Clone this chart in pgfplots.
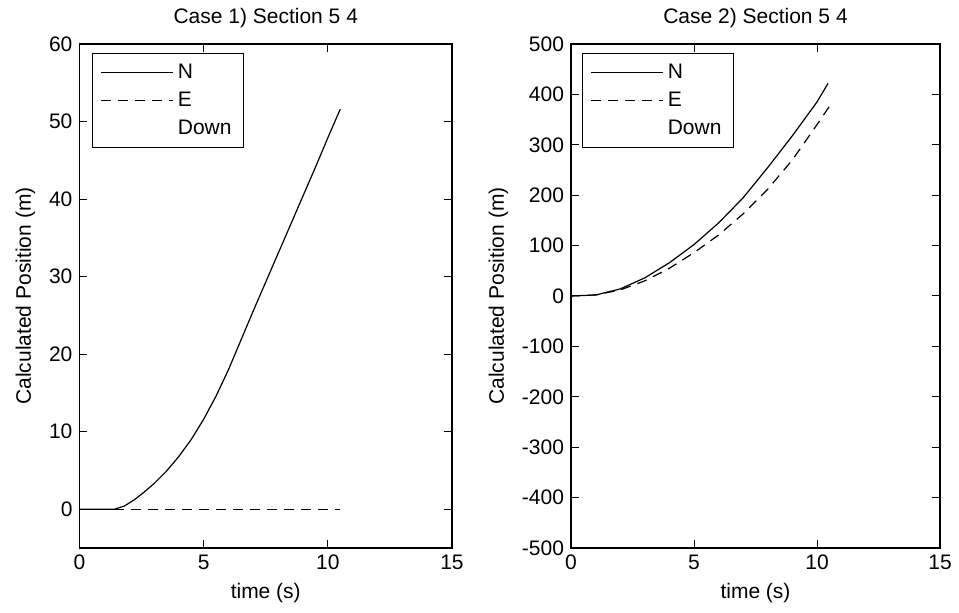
\documentclass[border=0pt]{standalone}
\usepackage{pgfplots}
\pgfplotsset{compat=1.18}
\usepackage{fontspec}
\setmainfont{Liberation Sans}
\begin{document}
\begin{tikzpicture}
\pgfplotsset{
  myaxis/.style={
    scale only axis,
    height=252pt,
    xmin=0, xmax=15,
    xtick={0,5,10,15},
    tick align=inside,
    major tick length=4pt,
    axis line style={line width=0.6pt},
    every tick/.style={black, line width=0.5pt},
    font=\fontsize{10.5}{12.6}\selectfont,
    /pgf/number format/assume math mode=true,
    xlabel={time (s)},
    ylabel={Calculated Position (m)},
    legend cell align=left,
    legend style={draw=black, line width=0.5pt, fill=white, row sep=1.5pt,
      inner xsep=4pt, inner ysep=3pt, font=\fontsize{10.5}{12.6}\selectfont},
    legend image code/.code={\draw[#1] (0pt,0pt) -- (36pt,0pt);},
    title style={yshift=-1.5pt},
  },
  nline/.style={black, line width=0.6pt, solid},
  eline/.style={black, line width=0.6pt, dash pattern=on 5pt off 3.5pt},
}
\begin{axis}[myaxis, at={(0,0)}, anchor=south west,
  width=186.25pt,
  ymin=-5, ymax=60,
  ytick={0,10,20,30,40,50,60},
  title={Case 1) Section 5 4},
  legend style={at={(0.034,0.982)}, anchor=north west},
]
\addplot[nline] coordinates {
(0,0) (1.4,0) (1.8,0.4) (2.2,1.2) (2.6,2.2) (3,3.3) (3.5,4.9) (4,6.8) (4.5,9.0)
(5,11.6) (5.5,14.6) (6,18) (6.5,21.8) (7,25.6) (7.5,29.3) (8,33) (8.5,36.7)
(9,40.4) (9.5,44.1) (10,47.9) (10.5,51.6)};
\addlegendentry{N}
\addplot[eline] coordinates {(1.4,0) (10.5,0)};
\addlegendentry{E}
\addlegendimage{white, draw opacity=0}
\addlegendentry{Down}
\end{axis}
\begin{axis}[myaxis, at={(245.75pt,0)}, anchor=south west,
  width=184.5pt,
  ymin=-500, ymax=500,
  ytick={-500,-400,-300,-200,-100,0,100,200,300,400,500},
  title={Case 2) Section 5 4},
  legend style={at={(0.03,0.982)}, anchor=north west},
]
\addplot[nline] coordinates {
(0,0) (1,2) (2,14) (3,36) (4,66) (5,102) (6,145) (7,195) (8,255) (9,318)
(10,385) (10.45,422)};
\addlegendentry{N}
\addplot[eline] coordinates {
(0,0) (1,2) (2,12) (3,30) (4,55) (5,86) (6,121) (7,163) (8,212) (9,270)
(10,340) (10.5,376)};
\addlegendentry{E}
\addlegendimage{white, draw opacity=0}
\addlegendentry{Down}
\end{axis}
\pgfresetboundingbox
\path[use as bounding box] (-39.75pt,-32.5pt) rectangle (439.75pt,274pt);
\end{tikzpicture}
\end{document}
